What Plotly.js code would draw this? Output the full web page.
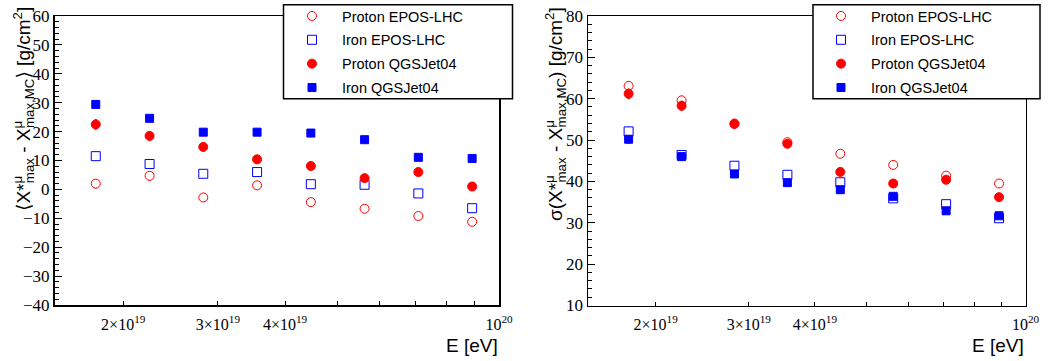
<!DOCTYPE html>
<html>
<head>
<meta charset="utf-8">
<script src="https://cdn.plot.ly/plotly-3.0.1.min.js"></script>
<style>html,body{margin:0;padding:0;background:#fff;}#chart{width:1051px;height:361px;}</style>
</head>
<body>
<div id="chart"></div>
<script>
// ---- data ----
var energy = [1.778e19, 2.239e19, 2.818e19, 3.548e19, 4.467e19, 5.623e19, 7.079e19, 8.913e19];
var seriesNames = ['Proton EPOS-LHC', 'Iron EPOS-LHC', 'Proton QGSJet04', 'Iron QGSJet04'];

// left panel: mean difference [g/cm2]
var protonEposMean = [2.0, 4.7, -2.8, 1.4, -4.4, -6.7, -9.2, -11.2];
var ironEposMean   = [11.5, 8.8, 5.4, 6.0, 1.8, 1.6, -1.4, -6.5];
var protonQgsMean  = [22.5, 18.5, 14.7, 10.4, 8.1, 3.9, 6.0, 1.0];
var ironQgsMean    = [29.4, 24.6, 19.8, 19.8, 19.5, 17.2, 11.1, 10.7];
var protonEposMeanErr = [1.6, 1.7, 1.5, 1.2, 1.0, 1.0, 0.9, 0.9];
var ironEposMeanErr   = [1.6, 1.6, 1.0, 1.0, 0.8, 0.8, 0.7, 0.7];
var protonQgsMeanErr  = [1.9, 1.7, 1.6, 1.4, 0.9, 0.8, 0.7, 0.7];
var ironQgsMeanErr    = [1.2, 1.0, 0.8, 0.8, 0.7, 0.7, 0.6, 0.6];

// right panel: sigma [g/cm2]
var protonEposSigma = [63.1, 59.6, 54.0, 49.5, 46.7, 44.0, 41.4, 39.5];
var ironEposSigma   = [52.1, 46.4, 43.8, 41.6, 39.8, 35.9, 34.5, 31.1];
var protonQgsSigma  = [61.2, 58.3, 53.9, 49.1, 42.3, 39.5, 40.4, 36.2];
var ironQgsSigma    = [50.2, 46.0, 41.8, 39.7, 38.0, 36.4, 32.9, 31.7];
var protonEposSigmaErr = [1.2, 1.1, 1.0, 0.9, 0.8, 0.7, 0.7, 0.6];
var ironEposSigmaErr   = [1.1, 1.0, 0.8, 0.7, 0.6, 0.6, 0.5, 0.5];
var protonQgsSigmaErr  = [1.3, 1.2, 1.1, 1.0, 0.7, 0.6, 0.6, 0.5];
var ironQgsSigmaErr    = [1.0, 0.9, 0.7, 0.6, 0.6, 0.5, 0.5, 0.5];

var xTickVals = [2e19, 3e19, 4e19, 5e19, 6e19, 7e19, 8e19, 9e19, 1e20];
var xTickText = ['2×10<sup>19</sup>', '3×10<sup>19</sup>', '4×10<sup>19</sup>', '', '', '', '', '', '10<sup>20</sup>'];

// ---- styles ----
var RED = '#ff0000', BLUE = '#0000ff';
var styles = [
  {color: RED,  fill: '#ffffff', symbol: 'circle', size: 9},
  {color: BLUE, fill: '#ffffff', symbol: 'square', size: 9},
  {color: RED,  fill: RED,       symbol: 'circle', size: 9},
  {color: BLUE, fill: BLUE,      symbol: 'square', size: 8}
];

function mk(i, y, err, xa, ya, leg) {
  var s = styles[i];
  return {
    type: 'scatter', mode: 'markers', x: energy, y: y,
    xaxis: xa, yaxis: ya, name: seriesNames[i], legend: leg,
    legendgroup: leg + i,
    marker: {color: s.fill, symbol: s.symbol, size: s.size, line: {color: s.color, width: 1}},
    error_y: {type: 'data', array: err, visible: true, width: 0, thickness: 2, color: s.color},
    cliponaxis: false
  };
}

var traces = [
  mk(0, protonEposMean, protonEposMeanErr, 'x', 'y', 'legend'),
  mk(1, ironEposMean, ironEposMeanErr, 'x', 'y', 'legend'),
  mk(2, protonQgsMean, protonQgsMeanErr, 'x', 'y', 'legend'),
  mk(3, ironQgsMean, ironQgsMeanErr, 'x', 'y', 'legend'),
  mk(0, protonEposSigma, protonEposSigmaErr, 'x2', 'y2', 'legend2'),
  mk(1, ironEposSigma, ironEposSigmaErr, 'x2', 'y2', 'legend2'),
  mk(2, protonQgsSigma, protonQgsSigmaErr, 'x2', 'y2', 'legend2'),
  mk(3, ironQgsSigma, ironQgsSigmaErr, 'x2', 'y2', 'legend2')
];

var W = 1051, H = 361;
function px(x) { return x / W; }
function py(y) { return 1 - y / H; }

var serif = 'Liberation Serif, Times New Roman, serif';
var sans = 'Liberation Sans, Arial, DejaVu Sans, sans-serif';

function xax(domain) {
  return {
    type: 'log', domain: domain, range: [Math.log10(1.49e19), 20],
    tickmode: 'array', tickvals: xTickVals, ticktext: xTickText,
    ticks: 'inside', ticklen: 4, tickwidth: 1, tickcolor: '#000',
    showline: true, linecolor: '#000', linewidth: 1.5, mirror: true,
    showgrid: false, zeroline: false,
    tickfont: {family: serif, size: 16, color: '#000'},
    ticklabelstandoff: 4
  };
}
function yax(domain, range, anchor) {
  return {
    domain: domain, range: range, anchor: anchor,
    tickmode: 'linear', tick0: 0, dtick: 10,
    ticks: 'inside', ticklen: 7, tickwidth: 1, tickcolor: '#000',
    minor: {ticks: 'inside', dtick: 2, ticklen: 4, tickwidth: 1, tickcolor: '#000', showgrid: false},
    showline: true, linecolor: '#000', linewidth: 1.5, mirror: true,
    showgrid: false, zeroline: false,
    tickfont: {family: serif, size: 17, color: '#000'},
    ticklabelstandoff: 0
  };
}

var legendCommon = {
  bgcolor: 'rgba(0,0,0,0)', borderwidth: 0,
  font: {family: sans, size: 14.5, color: '#000'},
  itemwidth: 50, tracegroupgap: 2, traceorder: 'grouped',
  xanchor: 'left', yanchor: 'top', y: 1
};

// stacked super/subscript helper via negative letter-spacing on the superscript
var MU = '<sup><span style="letter-spacing:-7.3px">μ</span></sup>';
var titleMean = '⟨X*' + MU + '<sub>max</sub> - X' + MU + '<sub>max,MC</sub>⟩ [g/cm<sup>2</sup>]';
var titleSigma = 'σ(X*' + MU + '<sub>max</sub> - X' + MU + '<sub>max,MC</sub>) [g/cm<sup>2</sup>]';

var layout = {
  width: W, height: H,
  margin: {l: 0, r: 0, t: 0, b: 0},
  paper_bgcolor: '#fff', plot_bgcolor: '#fff',
  showlegend: true,
  xaxis: Object.assign(xax([px(54.5), px(499)]), {anchor: 'y'}),
  yaxis: yax([py(305), py(16)], [-40, 60], 'x'),
  xaxis2: Object.assign(xax([px(588), px(1025.5)]), {anchor: 'y2'}),
  yaxis2: yax([py(305.5), py(16)], [10, 80], 'x2'),
  legend: Object.assign({}, legendCommon, {x: px(282)}),
  legend2: Object.assign({}, legendCommon, {x: px(811)}),
  shapes: [
    {type: 'rect', xref: 'paper', yref: 'paper', x0: px(283.5), x1: px(512.5), y0: py(98.7), y1: py(4.7),
     line: {color: '#000', width: 1.5}, fillcolor: '#fff', layer: 'above'},
    {type: 'rect', xref: 'paper', yref: 'paper', x0: px(813), x1: px(1040), y0: py(98.7), y1: py(4.7),
     line: {color: '#000', width: 1.5}, fillcolor: '#fff', layer: 'above'}
  ],
  annotations: [
    {xref: 'paper', yref: 'paper', x: px(24), y: py(5), xanchor: 'center', yanchor: 'top', textangle: -90,
     showarrow: false, font: {family: sans, size: 19, color: '#000'}, text: titleMean},
    {xref: 'paper', yref: 'paper', x: px(556), y: py(5), xanchor: 'center', yanchor: 'top', textangle: -90,
     showarrow: false, font: {family: sans, size: 19, color: '#000'}, text: titleSigma},
    {xref: 'paper', yref: 'paper', x: px(500), y: py(345), xanchor: 'right', yanchor: 'middle',
     showarrow: false, font: {family: sans, size: 19, color: '#000'}, text: 'E [eV]'},
    {xref: 'paper', yref: 'paper', x: px(1026), y: py(345), xanchor: 'right', yanchor: 'middle',
     showarrow: false, font: {family: sans, size: 19, color: '#000'}, text: 'E [eV]'}
  ]
};

Plotly.newPlot('chart', traces, layout, {displayModeBar: false, staticPlot: true});
</script>
</body>
</html>
